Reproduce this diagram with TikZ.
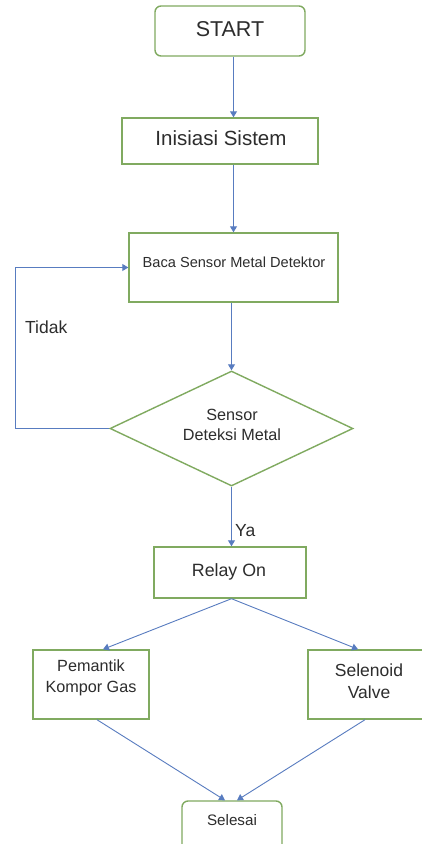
\documentclass[tikz,border=0pt]{standalone}
\usepackage{fontspec}
\setmainfont{Liberation Sans}
\usetikzlibrary{shapes.geometric,arrows.meta,calc}
\definecolor{boxgreen}{RGB}{128,170,96}
\definecolor{arrblue}{RGB}{88,124,192}
\definecolor{txtgray}{RGB}{45,45,45}
\begin{document}
\begin{tikzpicture}[x=1pt,y=-1pt,
  box/.style={draw=boxgreen, line width=1.4pt, fill=white, inner sep=0pt},
  rbox/.style={box, rounded corners=6pt},
  txt/.style={text=txtgray, inner sep=0pt, align=center},
  conn/.style={draw=arrblue, line width=0.9pt, -{Triangle[width=7pt,length=6pt]}}]
\useasboundingbox (0,0) rectangle (422,844);
\fill[white] (0,0) rectangle (422,844);

% nodes
\node[rbox, minimum width=150pt, minimum height=50pt] (start) at (230,31) {};
\node[txt, font=\fontsize{21.5}{24}\selectfont] (startt) at (230,29) {START};

\node[box, minimum width=196pt, minimum height=46pt] (init) at (220,141) {};
\node[txt, font=\fontsize{20.5}{23}\selectfont] (initt) at (221,138) {Inisiasi Sistem};

\node[box, minimum width=209pt, minimum height=69pt] (baca) at (233.5,267.5) {};
\node[txt, font=\fontsize{14.6}{17}\selectfont] (bacat) at (234,262) {Baca Sensor Metal Detektor};

\node[box, diamond, minimum width=243pt, minimum height=115pt] (dia) at (231.5,428.5) {};
\node[txt, font=\fontsize{16.2}{20.5}\selectfont] (diat) at (232,425) {Sensor\\Deteksi Metal};

\node[box, minimum width=152pt, minimum height=51pt] (relay) at (230,572.5) {};
\node[txt, font=\fontsize{17.8}{20}\selectfont] (relayt) at (229,572) {Relay On};

\node[box, minimum width=116pt, minimum height=69pt] (pem) at (91,684.5) {};
\node[txt, font=\fontsize{16.2}{21}\selectfont] (pemt) at (91,678) {Pemantik\\Kompor Gas};

\node[box, minimum width=122pt, minimum height=69pt] (sel) at (369,684.5) {};
\node[txt, font=\fontsize{17.5}{22}\selectfont] (selt) at (369,681) {Selenoid\\Valve};

\node[rbox, minimum width=100pt, minimum height=56pt] (fin) at (232,829) {};
\node[txt, font=\fontsize{15.2}{19}\selectfont] (fint) at (232,820) {Selesai};

% labels
\node[txt, font=\fontsize{17.5}{20}\selectfont, anchor=west] (tidak) at (25,327) {Tidak};
\node[txt, font=\fontsize{17.5}{20}\selectfont, anchor=west] (ya) at (235,531) {Ya};

% connectors
\draw[conn] (start.south -| baca.north) -- (init.north -| baca.north);
\draw[conn] (init.south -| baca.north) -- (baca.north);
\draw[conn] (baca.south -| dia.north) -- (dia.north);
\draw[conn] (dia.south) -- (relay.north -| dia.south);
\coordinate (loopc) at (15,428.5);
\draw[conn] (dia.west) -- (loopc) |- (baca.west);
\draw[conn] (relay.south -| dia.south) -- ([xshift=12pt]pem.north);
\draw[conn] (relay.south -| dia.south) -- ([xshift=-11pt]sel.north);
\draw[conn] ([xshift=6pt]pem.south) -- ([xshift=-7pt]fin.north);
\draw[conn] ([xshift=-4pt]sel.south) -- ([xshift=5pt]fin.north);
\end{tikzpicture}
\end{document}
